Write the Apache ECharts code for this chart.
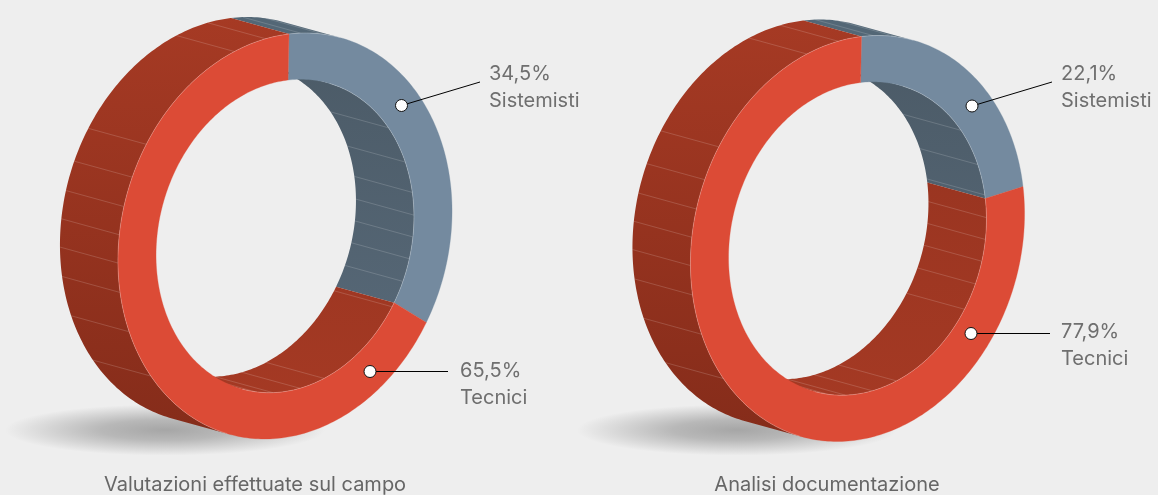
<!DOCTYPE html>
<html>
<head>
<meta charset="utf-8">
<script src="https://cdn.jsdelivr.net/npm/echarts@6/dist/echarts.min.js"></script>
<style>
  html, body { margin: 0; padding: 0; background: #eeeeee; }
  #chart { width: 1158px; height: 495px; }
</style>
</head>
<body>
<div id="chart"></div>
<script>
// dati
const categories = ['Sistemisti', 'Tecnici']
const valuesCampo = [34.5, 65.5]
const valuesDocumenti = [22.1, 77.9]
const titles = ['Valutazioni effettuate sul campo', 'Analisi documentazione']

// righe chiare sullo spessore dell'anello (gradi dall'alto, senso orario)
const hatchBase = [52, 67.5, 79.5, 88, 96, 104, 112.5, 122.5, 161, 172, 184, 192]
const hatchAngles = hatchBase.concat(hatchBase.map(a => a + 180))

const faceColors = ['#748a9f', '#dc4b36']
const outerStops = [['#536776', '#536776'], ['#a63a24', '#852c1a']]
const innerStops = [['#4a5965', '#5a6c7c'], ['#93321f', '#a63a24']]

// layout dei due anelli
const layouts = [
  {
    cx: 285, cy: 236, shadowX: 165, titleX: 255,
    markers: [[401.5, 105.5], [370, 371.5]],
    leaderEnds: [[480, 82], [448, 371.5]],
    labels: [[489, 74], [460, 371]]
  },
  {
    cx: 857.5, cy: 238.5, shadowX: 737, titleX: 827,
    markers: [[972, 106], [971, 333.5]],
    leaderEnds: [[1052, 82], [1050, 333.5]],
    labels: [[1061, 74], [1061, 332]]
  }
]

// proiezione del cerchio sull'ellisse inclinata
const A = 167, C = 4, B = 202, D = -20
const INNER = 0.772
const OFFSET = [-58, -16]
const RAD = Math.PI / 180

const warp = deg => deg + 3.6 * Math.sin(2 * deg * RAD)
const project = (l, deg, r, back) => {
  const s = Math.sin(deg * RAD), c = Math.cos(deg * RAD)
  return [
    l.cx + r * (A * s + C * c) + (back ? OFFSET[0] : 0),
    l.cy + r * (-B * c + D * s) + (back ? OFFSET[1] : 0)
  ]
}
// > 0: la parete esterna e' visibile, < 0: quella interna
const facing = deg => {
  const s = Math.sin(deg * RAD), c = Math.cos(deg * RAD)
  const tx = A * c - C * s, ty = B * s + D * c
  return OFFSET[0] * ty - OFFSET[1] * tx
}
const sweep = (from, to) => {
  const out = []
  for (let d = from; d < to; d += 1) out.push(d)
  out.push(to)
  return out
}
const gradient = (stops, cy) => new echarts.graphic.LinearGradient(
  0, cy - 220, 0, cy + 200,
  [{ offset: 0, color: stops[0] }, { offset: 1, color: stops[1] }], true)

const rows = values => {
  let acc = 0
  return values.map((v, i) => {
    const row = [v, acc, i]
    acc += v
    return row
  })
}
const rangeOf = api => [
  warp(api.value(1) * 3.6),
  warp((api.value(1) + api.value(0)) * 3.6)
]

const renderWalls = l => (params, api) => {
  const [from, to] = rangeOf(api)
  const idx = api.value(2)
  const angles = sweep(from, to)
  const children = []
  const wall = (list, r, fill) => {
    if (list.length < 2) return
    const front = list.map(d => project(l, d, r, false))
    const back = list.map(d => project(l, d, r, true)).reverse()
    children.push({
      type: 'polygon',
      shape: { points: front.concat(back) },
      style: { fill: fill, stroke: null }
    })
  }
  const outerList = angles.filter(d => facing(d) > 0)
  const innerList = angles.filter(d => facing(d) < 0)
  wall(outerList, 1, gradient(outerStops[idx], l.cy))
  wall(innerList, INNER, gradient(innerStops[idx], l.cy))

  hatchAngles.forEach(a => {
    const norm = a % 360
    if (norm < from || norm > to) return
    const r = facing(norm) > 0 ? 1 : INNER
    const p = project(l, norm, r, false), q = project(l, norm, r, true)
    children.push({
      type: 'line',
      shape: { x1: p[0], y1: p[1], x2: q[0], y2: q[1] },
      style: { stroke: 'rgba(255,255,255,0.2)', lineWidth: 0.8 }
    })
  })
  return { type: 'group', children: children }
}

const renderFaces = l => (params, api) => {
  const [from, to] = rangeOf(api)
  const idx = api.value(2)
  const angles = sweep(from, to)
  const outer = angles.map(d => project(l, d, 1, false))
  const inner = angles.map(d => project(l, d, INNER, false)).reverse()
  const children = [{
    type: 'polygon',
    shape: { points: outer.concat(inner) },
    style: { fill: faceColors[idx], stroke: faceColors[idx], lineWidth: 0.3 }
  }]
  // filo chiaro dove la faccia tocca la parete
  const edge = (list, r) => {
    if (list.length < 2) return
    children.push({
      type: 'polyline',
      shape: { points: list.map(d => project(l, d, r, false)) },
      style: { stroke: 'rgba(255,255,255,0.3)', lineWidth: 0.7, fill: null }
    })
  }
  edge(angles.filter(d => facing(d) > 0), 1)
  edge(angles.filter(d => facing(d) < 0), INNER)
  return { type: 'group', children: children }
}

const renderLabels = l => (params, api) => {
  const idx = api.value(2)
  const m = l.markers[idx], e = l.leaderEnds[idx], t = l.labels[idx]
  const text = (str, y) => ({
    type: 'text',
    style: {
      x: t[0], y: y, text: str, fill: '#6f6f6f',
      font: '400 20px Inter', textAlign: 'left', textVerticalAlign: 'middle'
    }
  })
  return {
    type: 'group',
    children: [
      {
        type: 'line',
        shape: { x1: m[0], y1: m[1], x2: e[0], y2: e[1] },
        style: { stroke: '#000000', lineWidth: 1 }
      },
      {
        type: 'circle',
        shape: { cx: m[0], cy: m[1], r: 6 },
        style: { fill: '#ffffff', stroke: '#111111', lineWidth: 1 }
      },
      text(String(api.value(0)).replace('.', ',') + '%', t[1]),
      text(categories[idx], t[1] + 27)
    ]
  }
}

const renderBase = (l, title) => () => ({
  type: 'group',
  children: [
    {
      type: 'circle',
      x: l.shadowX, y: 430, scaleY: 0.16,
      shape: { cx: 0, cy: 0, r: 160 },
      style: {
        fill: new echarts.graphic.RadialGradient(0.5, 0.5, 0.5, [
          { offset: 0, color: '#a6a6a6' },
          { offset: 0.4, color: '#b8b8b8' },
          { offset: 1, color: '#eeeeee' }
        ])
      }
    },
    {
      type: 'text',
      style: {
        x: l.titleX, y: 485, text: title, fill: '#666666',
        font: '400 20px Inter', textAlign: 'center', textVerticalAlign: 'middle'
      }
    }
  ]
})

const series = []
;[valuesCampo, valuesDocumenti].forEach((values, i) => {
  const l = layouts[i]
  const data = rows(values)
  const custom = (renderItem, d, z) => ({
    type: 'custom', coordinateSystem: 'none', silent: true,
    renderItem: renderItem, data: d, z: z, clip: false
  })
  series.push(custom(renderBase(l, titles[i]), [[0]], 1))
  series.push(custom(renderWalls(l), data, 2))
  series.push(custom(renderFaces(l), data, 3))
  series.push(custom(renderLabels(l), data, 4))
})

const myChart = echarts.init(document.getElementById('chart'), null, { renderer: 'canvas' })
myChart.setOption({
  backgroundColor: '#eeeeee',
  animation: false,
  series: series
})
</script>
</body>
</html>
